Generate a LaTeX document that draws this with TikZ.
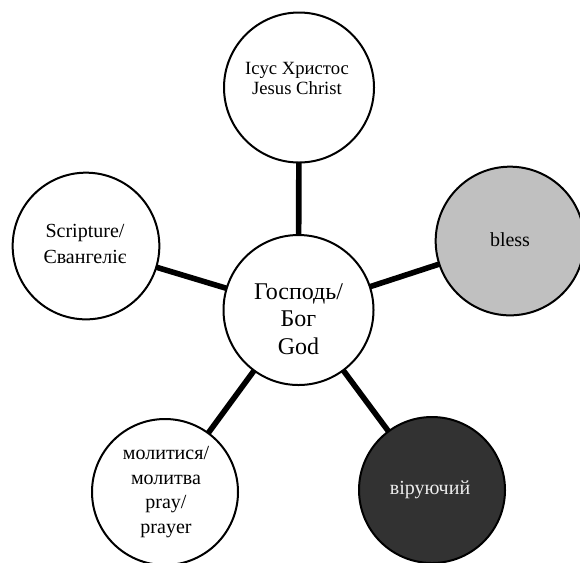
\documentclass[tikz,border=0pt]{standalone}
\usepackage{fontspec}
\setmainfont{Liberation Serif}
\definecolor{blessgray}{HTML}{C0C0C0}
\definecolor{believerdark}{HTML}{323232}
\begin{document}
\begin{tikzpicture}[x=0.75pt,y=-0.75pt,
  bubble/.style={circle, draw=black, line width=1.5pt, fill=white, inner sep=0pt},
  caption/.style={align=center, inner sep=0pt, font=\fontsize{15pt}{18pt}\selectfont},
  link/.style={line width=4.2pt, line cap=butt}]
\useasboundingbox (0,0) rectangle (580,562);

% circle centres (pixel grid, y down)
\coordinate (cg) at (298.5,310);
\coordinate (cj) at (299,87.5);
\coordinate (cs) at (86,246);
\coordinate (cb) at (510,241);
\coordinate (cp) at (165,492);
\coordinate (cv) at (432,490);

% spokes from the hub to every satellite
\draw[link] (cg) -- (cj);
\draw[link] (cg) -- (cs);
\draw[link] (cg) -- (cb);
\draw[link] (cg) -- (cp);
\draw[link] (cg) -- (cv);

% circles
\node[bubble, minimum size=112.5pt] (god) at (cg) {};
\node[bubble, minimum size=112.5pt] (jesus) at (cj) {};
\node[bubble, minimum size=110pt] (scripture) at (cs) {};
\node[bubble, minimum size=111.5pt, fill=blessgray] (bless) at (cb) {};
\node[bubble, minimum size=109.5pt] (pray) at (cp) {};
\node[bubble, minimum size=109.5pt, fill=believerdark] (believer) at (cv) {};

% captions
\node[caption, font=\fontsize{18pt}{20.5pt}\selectfont] (godtxt) at (298.5,319) {Господь/\\Бог\\God};
\node[caption, font=\fontsize{14pt}{15pt}\selectfont] (jesustxt) at (297,78) {Іcус Христос\\Jesus Christ};
\node[caption, font=\fontsize{15pt}{20pt}\selectfont] (scripturetxt) at (85,244) {Scripture/\\Євангеліє};
\node[caption] (blesstxt) at (510,240) {bless};
\node[caption, font=\fontsize{15pt}{18.3pt}\selectfont] (praytxt) at (166,492) {молитися/\\молитва\\pray/\\prayer};
\node[caption, text=white!93!black] (believertxt) at (430,490) {віруючий};
\end{tikzpicture}
\end{document}
